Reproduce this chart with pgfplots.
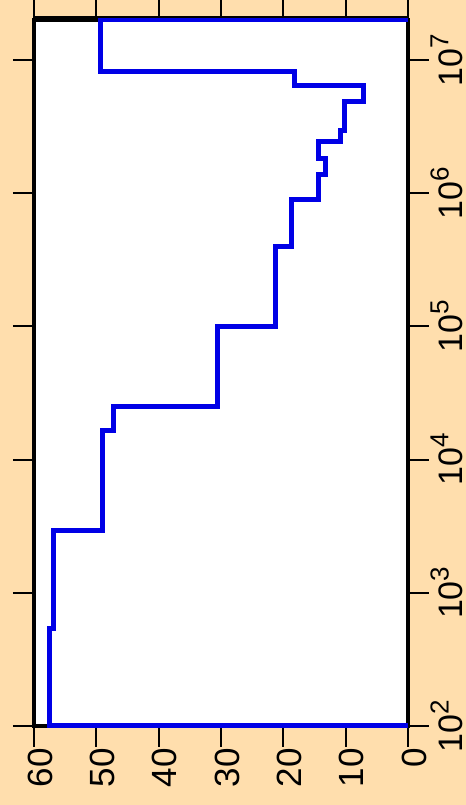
\documentclass[border=0pt]{standalone}
\usepackage{pgfplots}
\pgfplotsset{compat=1.18}
\usepackage{fontspec}
\setmainfont{Liberation Sans}

\definecolor{bgtan}{RGB}{255,222,173}
\definecolor{stepblue}{RGB}{0,0,230}
\newcommand\pw[1]{10\raisebox{0.42em}{\fontsize{13}{14}\selectfont #1}}

\begin{document}
\begin{tikzpicture}
% page: 466x805 px, 1px = 0.5pt, axis box corner at origin
\useasboundingbox (-17pt,-39.5pt) rectangle (216pt,363pt);
\fill[bgtan] (-17pt,-39.5pt) rectangle (216pt,363pt);
\clip (-17pt,-39.5pt) rectangle (216pt,363pt);
\begin{axis}[
    at={(0,0)}, anchor=south west,
    scale only axis,
    width=187pt, height=353pt,
    xmin=0, xmax=60, x dir=reverse,
    ymode=log, ymin=100, ymax=2e7,
    xtick={0,10,20,30,40,50,60},
    ytick={1e2,1e3,1e4,1e5,1e6,1e7},
    yticklabels={\pw{2},\pw{3},\pw{4},\pw{5},\pw{6},\pw{7}},
    minor tick num=0,
    yminorticks=false,
    xtick pos=both, xticklabel pos=lower,
    ytick pos=both, yticklabel pos=right,
    tick align=outside,
    major tick length=10.5pt,
    major tick style={line width=1pt, black},
    axis line style={line width=1.75pt, black},
    axis background/.style={fill=white},
    /pgf/number format/assume math mode=true,
    tick label style={font=\fontsize{17.5}{19}\selectfont, inner sep=0.5pt},
    xticklabel style={rotate=90, anchor=east, yshift=-3pt},
    yticklabel style={rotate=90, anchor=north, xshift=0pt,
        font=\fontsize{17}{19}\selectfont},
    clip=false,
]
\addplot[stepblue, line width=2.5pt, line join=miter] coordinates {
    (0,100) (57.55,100) (57.55,544) (56.8,544) (56.8,2958) (49.0,2958)
    (49.0,16680) (47.3,16680) (47.3,24950) (30.5,24950) (30.5,1e5)
    (21.3,1e5) (21.3,396000) (18.7,396000) (18.7,9e5) (14.36,9e5)
    (14.36,1.393e6) (13.2,1.393e6) (13.2,1.828e6) (14.28,1.828e6)
    (14.28,2.466e6) (10.8,2.466e6) (10.8,2.98e6) (10.22,2.98e6)
    (10.22,4.88e6) (7.17,4.88e6) (7.17,6.41e6) (18.24,6.41e6)
    (18.24,8.17e6) (49.41,8.17e6) (49.41,2e7) (0,2e7)
};
\end{axis}
\draw[line width=1pt] (0,354.5pt) -- (187pt,354.5pt);
\end{tikzpicture}
\end{document}
